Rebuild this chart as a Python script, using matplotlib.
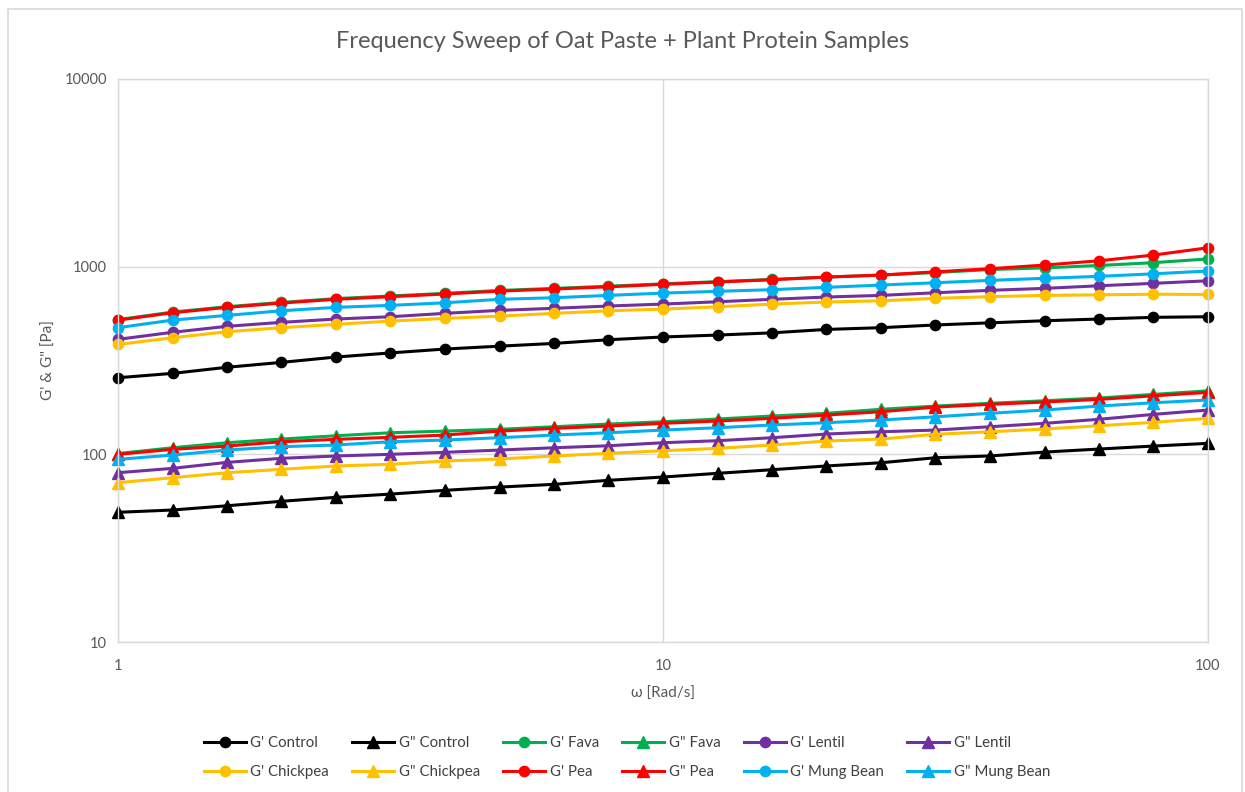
import matplotlib
matplotlib.use("Agg")
import matplotlib.pyplot as plt
from matplotlib.patches import Rectangle

plt.rcParams['font.family'] = ['Lato', 'DejaVu Sans']

# angular frequency (rad/s), 10 points per decade
omega = [1.0, 1.259, 1.585, 1.995, 2.512, 3.162, 3.981, 5.012, 6.310, 7.943,
         10.0, 12.59, 15.85, 19.95, 25.12, 31.62, 39.81, 50.12, 63.10, 79.43, 100.0]

gp_control = [256, 270, 291, 309, 330, 347, 364, 377, 390, 408, 422,
              432, 444, 463, 473, 489, 502, 515, 526, 537, 541]
gpp_control = [49.1, 50.5, 53.2, 56.2, 59.0, 61.4, 64.3, 66.9, 69.2, 72.7, 75.7,
               79.2, 82.8, 86.7, 90.2, 95.9, 98.0, 102.8, 106.7, 110.7, 114.4]

gp_fava = [522, 573, 612, 645, 676, 698, 721, 747, 766, 787, 810,
           832, 855, 880, 902, 930, 965, 985, 1015, 1050, 1100]
gpp_fava = [101, 108.4, 115.3, 120.6, 125.6, 130.3, 133, 135.9, 140.3, 145, 149.2,
            154.2, 160, 165.4, 173.8, 180.8, 187, 193, 199.5, 208.7, 218]

gp_lentil = [410, 447, 481, 505, 526, 541, 564, 585, 600, 617, 632,
             650, 670, 689, 703, 726, 748, 766, 791, 815, 841]
gpp_lentil = [79.8, 84.2, 90.6, 95.2, 98.0, 100.0, 102.5, 105.4, 108.4, 111.1, 115.3,
              118.2, 122.6, 128.3, 131.9, 134.7, 140.3, 146.3, 153.7, 163.3, 172.2]

gp_chickpea = [385, 418, 450, 473, 493, 513, 530, 545, 564, 582, 594,
               611, 632, 648, 658, 678, 692, 703, 708, 713, 711]
gpp_chickpea = [70.6, 75.1, 79.8, 83.2, 86.7, 88.5, 92.1, 94.4, 98.0, 101.2, 104.5,
                107.6, 112.1, 117.7, 120.6, 127.9, 131.9, 136.4, 142.0, 148.1, 155.5]

gp_pea = [519, 568, 607, 640, 670, 692, 715, 741, 760, 781, 805,
          828, 852, 880, 902, 939, 975, 1020, 1075, 1153, 1261]
gpp_pea = [100, 106.3, 110.7, 116.7, 120.2, 123.2, 126.7, 133, 137.5, 141.5, 146.3,
           150.5, 155.5, 162, 168.6, 178.6, 184.7, 190, 196.3, 205, 213.9]

gp_mung = [473, 519, 550, 582, 607, 622, 642, 670, 683, 703, 723,
           739, 754, 776, 798, 821, 845, 867, 888, 916, 948]
gpp_mung = [94.0, 99.1, 105.4, 109.8, 112.1, 116.7, 119.2, 122.6, 126.7, 130.3, 134.7,
            138.6, 143.3, 147.4, 152.3, 158.5, 165.4, 172.2, 180.8, 188.3, 194.7]

series = [
    ("G' Control", gp_control, '#000000', 'o'),
    ('G" Control', gpp_control, '#000000', '^'),
    ("G' Fava", gp_fava, '#00B050', 'o'),
    ('G" Fava', gpp_fava, '#00B050', '^'),
    ("G' Lentil", gp_lentil, '#7030A0', 'o'),
    ('G" Lentil', gpp_lentil, '#7030A0', '^'),
    ("G' Chickpea", gp_chickpea, '#FFC000', 'o'),
    ('G" Chickpea', gpp_chickpea, '#FFC000', '^'),
    ("G' Pea", gp_pea, '#FF0000', 'o'),
    ('G" Pea', gpp_pea, '#FF0000', '^'),
    ("G' Mung Bean", gp_mung, '#00B0F0', 'o'),
    ('G" Mung Bean', gpp_mung, '#00B0F0', '^'),
]

W, H = 1245, 792
fig = plt.figure(figsize=(W / 100, H / 100), dpi=100)
ax = fig.add_axes([118 / W, 1 - 642 / H, (1208 - 118) / W, (642 - 79) / H])

handles = []
for label, vals, color, mk in series:
    ms = 7.4 if mk == 'o' else 8.2
    h, = ax.plot(omega, vals, color=color, marker=mk, markersize=ms,
                 linewidth=2.2, label=label, clip_on=False)
    handles.append(h)

ax.set_xscale('log')
ax.set_yscale('log')
ax.set_xlim(1, 100)
ax.set_ylim(10, 10000)
ax.set_xticks([1, 10, 100])
ax.set_xticklabels(['1', '10', '100'])
ax.set_yticks([10, 100, 1000, 10000])
ax.set_yticklabels(['10', '100', '1000', '10000'])
ax.minorticks_off()
ax.grid(True, which='major', color='#D9D9D9', linewidth=1.0)
ax.set_axisbelow(True)
for s in ax.spines.values():
    s.set_color('#D9D9D9')
    s.set_linewidth(1.0)
ax.tick_params(axis='both', length=0, labelsize=10.5, colors='#595959')
ax.tick_params(axis='x', pad=12)
ax.tick_params(axis='y', pad=8)

ax.set_xlabel('ω [Rad/s]', fontsize=11, color='#595959', labelpad=10)
ax.set_ylabel('G\' & G" [Pa]', fontsize=11, color='#595959', labelpad=6)

fig.text(0.5, 1 - 42 / H, 'Frequency Sweep of Oat Paste + Plant Protein Samples',
         ha='center', va='center', fontsize=17, color='#595959')

# legend: row-wise ordering for 2 rows x 6 columns
order = []
for c in range(6):
    order.append(c)
    order.append(c + 6)
leg = fig.legend([handles[i] for i in order], [series[i][0] for i in order],
                 ncol=6, loc='center', bbox_to_anchor=(627 / W, 1 - 757.5 / H),
                 frameon=False, fontsize=10.8, handlelength=2.8,
                 handletextpad=0.3, columnspacing=1.55, labelspacing=1.0,
                 labelcolor='#404040')

# chart area border
fig.patches.append(Rectangle((7.5 / W, -0.05), (1242 - 7.5) / W, 1.05 - 8.5 / H,
                             transform=fig.transFigure, fill=False,
                             edgecolor='#D9D9D9', linewidth=1.2))

fig.savefig('out.png', dpi=100)
